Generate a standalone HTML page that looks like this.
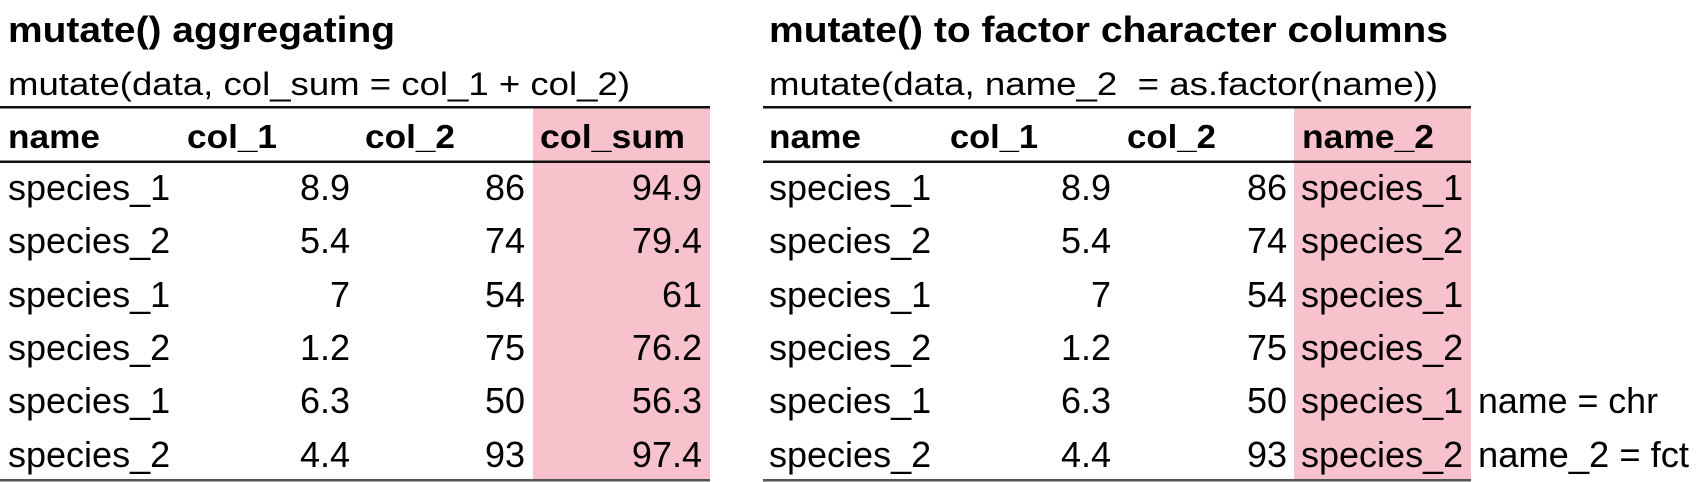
<!DOCTYPE html>
<html><head><meta charset="utf-8"><style>
html,body{margin:0;padding:0;background:#fff;width:1703px;height:482px;overflow:hidden}
text{font-family:"Liberation Sans",Arial,sans-serif;fill:#000}
.t{font-size:36px;font-weight:bold}
.s{font-size:32px}
.h{font-size:33px;font-weight:bold}
.d{font-size:36px}
.r{text-anchor:end}
</style></head><body>
<svg width="1703" height="482" xmlns="http://www.w3.org/2000/svg">
<rect x="533" y="108" width="177" height="372" fill="#f8c2cc"/>
<rect x="1294" y="108" width="177" height="372" fill="#f8c2cc"/>
<g fill="#111">
<rect x="0" y="106" width="710" height="2.5"/>
<rect x="0" y="160.5" width="710" height="2.5"/>
<rect x="0" y="479" width="710" height="2.5" fill="#555"/>
<rect x="763" y="106" width="708" height="2.5"/>
<rect x="763" y="160.5" width="708" height="2.5"/>
<rect x="763" y="479" width="708" height="2.5" fill="#555"/>
</g>
<text class="t" x="8" y="42" textLength="387" lengthAdjust="spacingAndGlyphs">mutate() aggregating</text>
<text class="s" x="8" y="95" textLength="622" lengthAdjust="spacingAndGlyphs">mutate(data, col_sum = col_1 + col_2)</text>
<text class="h" x="8" y="148" textLength="92" lengthAdjust="spacingAndGlyphs">name</text>
<text class="h" x="187" y="148" textLength="90" lengthAdjust="spacingAndGlyphs">col_1</text>
<text class="h" x="365" y="148" textLength="90" lengthAdjust="spacingAndGlyphs">col_2</text>
<text class="h" x="540" y="148" textLength="145" lengthAdjust="spacingAndGlyphs">col_sum</text>

<text class="t" x="769" y="42" textLength="679" lengthAdjust="spacingAndGlyphs">mutate() to factor character columns</text>
<text class="s" x="769" y="95" textLength="669" lengthAdjust="spacingAndGlyphs">mutate(data, name_2&#160; = as.factor(name))</text>
<text class="h" x="769" y="148" textLength="92" lengthAdjust="spacingAndGlyphs">name</text>
<text class="h" x="950" y="148" textLength="88" lengthAdjust="spacingAndGlyphs">col_1</text>
<text class="h" x="1127" y="148" textLength="89" lengthAdjust="spacingAndGlyphs">col_2</text>
<text class="h" x="1302" y="148" textLength="132" lengthAdjust="spacingAndGlyphs">name_2</text>

<g class="d">
<text class="d" x="8" y="200">species_1</text><text class="d r" x="350" y="200">8.9</text><text class="d r" x="525" y="200">86</text><text class="d r" x="702" y="200">94.9</text>
<text class="d" x="8" y="253">species_2</text><text class="d r" x="350" y="253">5.4</text><text class="d r" x="525" y="253">74</text><text class="d r" x="702" y="253">79.4</text>
<text class="d" x="8" y="307">species_1</text><text class="d r" x="350" y="307">7</text><text class="d r" x="525" y="307">54</text><text class="d r" x="702" y="307">61</text>
<text class="d" x="8" y="360">species_2</text><text class="d r" x="350" y="360">1.2</text><text class="d r" x="525" y="360">75</text><text class="d r" x="702" y="360">76.2</text>
<text class="d" x="8" y="413">species_1</text><text class="d r" x="350" y="413">6.3</text><text class="d r" x="525" y="413">50</text><text class="d r" x="702" y="413">56.3</text>
<text class="d" x="8" y="467">species_2</text><text class="d r" x="350" y="467">4.4</text><text class="d r" x="525" y="467">93</text><text class="d r" x="702" y="467">97.4</text>

<text class="d" x="769" y="200">species_1</text><text class="d r" x="1111" y="200">8.9</text><text class="d r" x="1287" y="200">86</text><text class="d" x="1301" y="200">species_1</text>
<text class="d" x="769" y="253">species_2</text><text class="d r" x="1111" y="253">5.4</text><text class="d r" x="1287" y="253">74</text><text class="d" x="1301" y="253">species_2</text>
<text class="d" x="769" y="307">species_1</text><text class="d r" x="1111" y="307">7</text><text class="d r" x="1287" y="307">54</text><text class="d" x="1301" y="307">species_1</text>
<text class="d" x="769" y="360">species_2</text><text class="d r" x="1111" y="360">1.2</text><text class="d r" x="1287" y="360">75</text><text class="d" x="1301" y="360">species_2</text>
<text class="d" x="769" y="413">species_1</text><text class="d r" x="1111" y="413">6.3</text><text class="d r" x="1287" y="413">50</text><text class="d" x="1301" y="413">species_1</text>
<text class="d" x="769" y="467">species_2</text><text class="d r" x="1111" y="467">4.4</text><text class="d r" x="1287" y="467">93</text><text class="d" x="1301" y="467">species_2</text>
<text class="d" x="1478" y="413" textLength="180" lengthAdjust="spacingAndGlyphs">name = chr</text>
<text class="d" x="1478" y="467" textLength="211" lengthAdjust="spacingAndGlyphs">name_2 = fct</text>
</g>
</svg>
</body></html>
